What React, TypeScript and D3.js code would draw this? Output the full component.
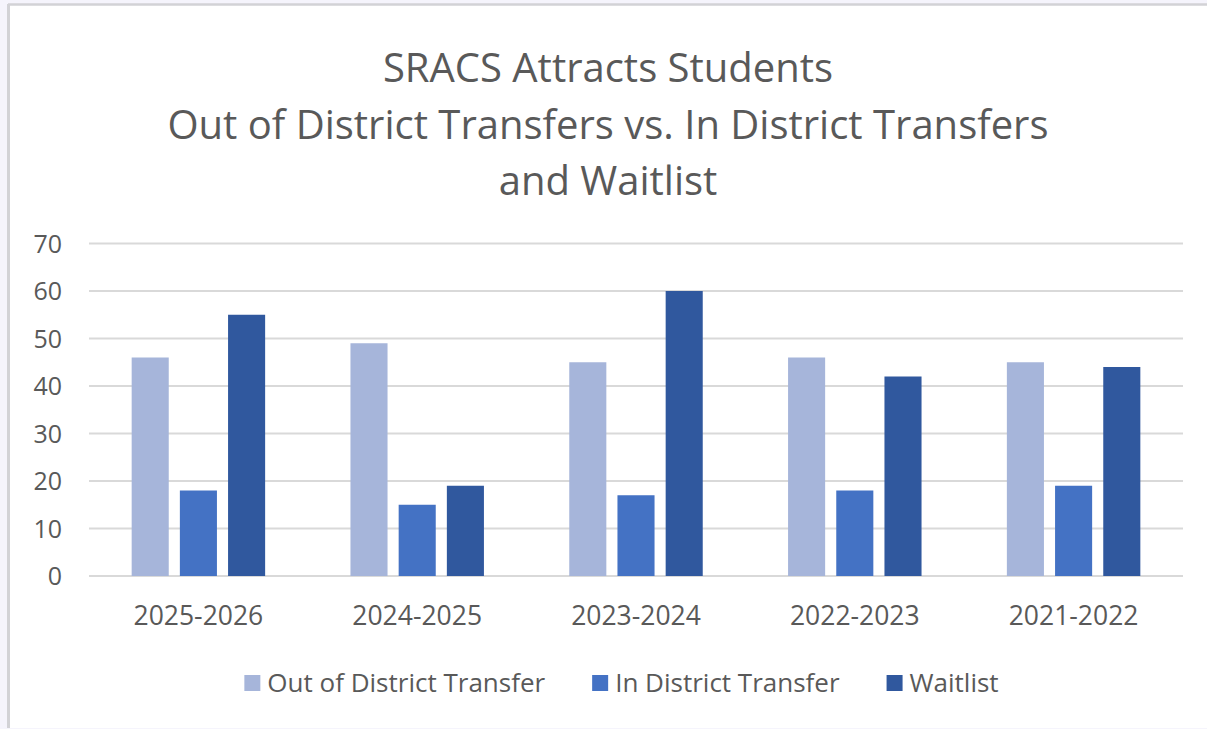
import React, { useEffect, useRef } from 'react';
import * as d3 from 'd3';

const W = 1207;
const H = 729;

const titleLines = [
  'SRACS Attracts Students',
  'Out of District Transfers vs. In District Transfers',
  'and Waitlist',
];
const years = ['2025-2026', '2024-2025', '2023-2024', '2022-2023', '2021-2022'];
const seriesNames = ['Out of District Transfer', 'In District Transfer', 'Waitlist'];
const seriesColors = ['#a6b5da', '#4472c4', '#30589e'];
const outOfDistrict = [46, 49, 45, 46, 45];
const inDistrict = [18, 15, 17, 18, 19];
const waitlist = [55, 19, 60, 42, 44];
const yTicks = [0, 10, 20, 30, 40, 50, 60, 70];

const FONT = '"Open Sans", "Noto Sans", sans-serif';
const TEXT = '#595959';

export default function App() {
  const svgRef = useRef<SVGSVGElement>(null);

  useEffect(() => {
    const svg = d3.select(svgRef.current);
    svg.selectAll('*').remove();

    // page + chart frame
    svg.append('rect').attr('width', W).attr('height', H).attr('fill', '#f5f4fc');
    svg.append('rect').attr('x', 8).attr('y', 4).attr('width', W - 8).attr('height', H - 5).attr('fill', '#fff');
    svg.append('line').attr('x1', 8.5).attr('x2', 8.5).attr('y1', 4).attr('y2', H - 1)
      .attr('stroke', '#d2d2d6').attr('stroke-width', 3);
    svg.append('line').attr('x1', 8).attr('x2', W).attr('y1', 4.5).attr('y2', 4.5)
      .attr('stroke', '#d2d2d6').attr('stroke-width', 2.5);

    const left = 89, right = 1183, top = 243.5, bottom = 576;

    const x0 = d3.scaleBand<string>().domain(years).range([left, right]);
    const band = x0.bandwidth();
    const groupFrac = 0.61;
    const x1 = d3.scaleBand<string>().domain(seriesNames)
      .range([band * (1 - groupFrac) / 2, band * (1 + groupFrac) / 2])
      .paddingInner(0.3 / 1.3);
    const y = d3.scaleLinear().domain([0, 70]).range([bottom, top]);

    // title
    const title = svg.append('g');
    titleLines.forEach((t, i) => {
      title.append('text')
        .attr('x', 608).attr('y', 82 + i * 56.7)
        .attr('text-anchor', 'middle')
        .attr('font-family', FONT).attr('font-size', 40)
        .attr('fill', TEXT)
        .text(t);
    });

    // gridlines + y labels
    const grid = svg.append('g');
    yTicks.forEach(v => {
      grid.append('line')
        .attr('x1', left).attr('x2', right)
        .attr('y1', y(v)).attr('y2', y(v))
        .attr('stroke', '#d9d9d9').attr('stroke-width', 2);
      grid.append('text')
        .attr('x', 62).attr('y', y(v))
        .attr('dy', '0.36em')
        .attr('text-anchor', 'end')
        .attr('font-family', FONT).attr('font-size', 25)
        .attr('fill', TEXT)
        .text(v);
    });

    // bars
    const series = [outOfDistrict, inDistrict, waitlist];
    const bars = svg.append('g');
    years.forEach((yr, i) => {
      const g = bars.append('g').attr('transform', `translate(${x0(yr)},0)`);
      seriesNames.forEach((s, j) => {
        const v = series[j][i];
        g.append('rect')
          .attr('x', x1(s))
          .attr('y', y(v))
          .attr('width', x1.bandwidth())
          .attr('height', y(0) - y(v))
          .attr('fill', seriesColors[j]);
      });
    });

    // x labels
    years.forEach(yr => {
      svg.append('text')
        .attr('x', x0(yr)! + band / 2).attr('y', 625)
        .attr('text-anchor', 'middle')
        .attr('font-family', FONT).attr('font-size', 26.5)
        .attr('fill', TEXT)
        .text(yr);
    });

    // legend, laid out from measured text widths
    const legend = svg.append('g');
    const sw = 16, swGap = 7, itemGap = 47;
    const items = seriesNames.map((s, j) => {
      const g = legend.append('g');
      g.append('rect').attr('width', sw).attr('height', sw).attr('y', -8).attr('fill', seriesColors[j]);
      const t = g.append('text')
        .attr('x', sw + swGap).attr('y', 0).attr('dy', '0.36em')
        .attr('font-family', FONT).attr('font-size', 26)
        .attr('fill', TEXT).text(s);
      const w = (t.node() as SVGTextElement).getComputedTextLength();
      return { g, w: sw + swGap + w };
    });
    const total = d3.sum(items, d => d.w) + itemGap * (items.length - 1);
    let cx = 621.5 - total / 2;
    items.forEach(it => {
      it.g.attr('transform', `translate(${cx},683)`);
      cx += it.w + itemGap;
    });
  }, []);

  return (
    <svg ref={svgRef} width={W} height={H}
      style={{ position: 'absolute', left: 0, top: 0, display: 'block' }} />
  );
}
